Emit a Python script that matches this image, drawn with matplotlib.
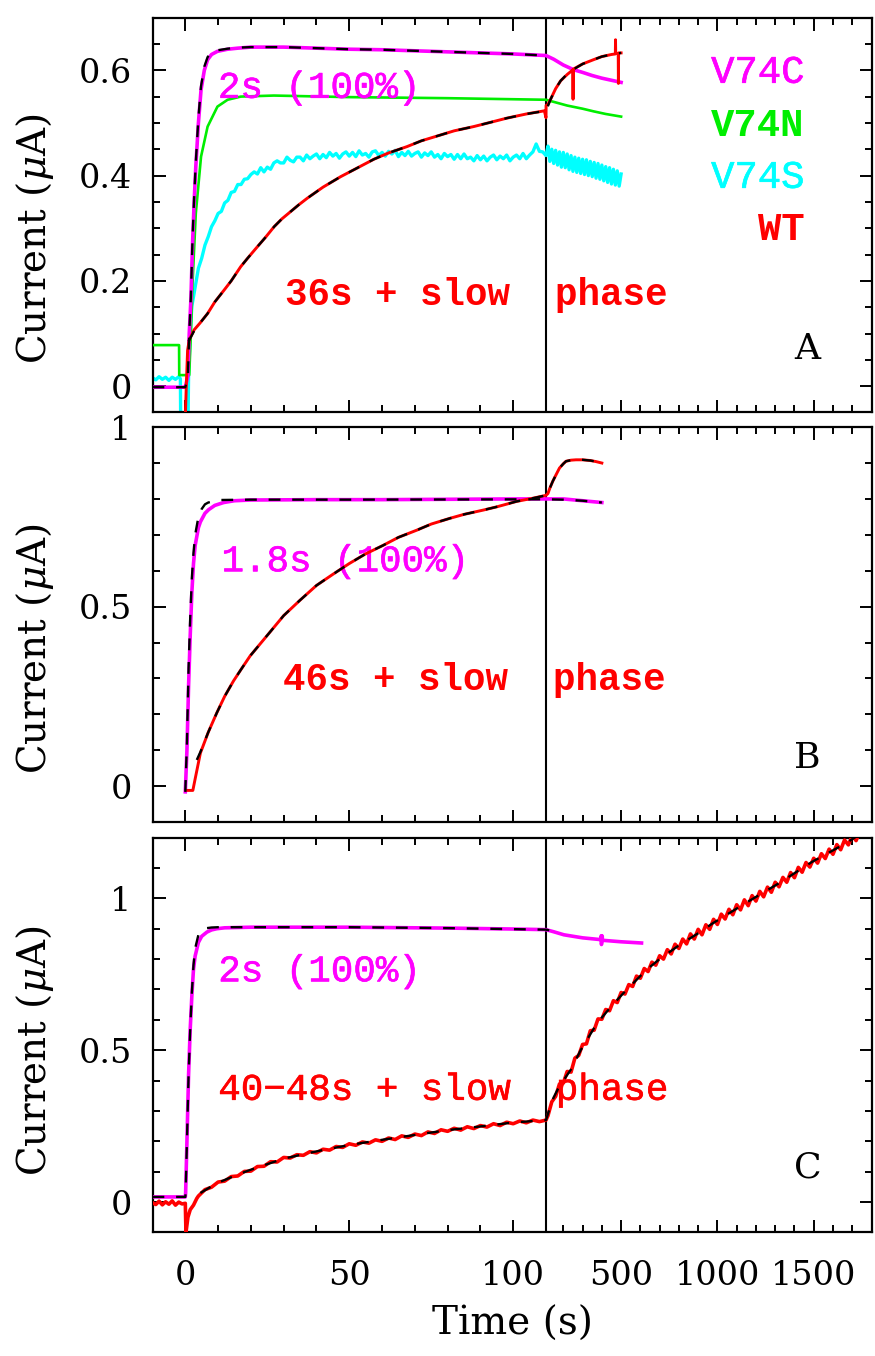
import numpy as np
import matplotlib
matplotlib.use("Agg")
import matplotlib.pyplot as plt
import matplotlib.patheffects as pe

# ---------------- Panel A : four constructs ----------------
# V74C (magenta)
a_v74c_t = [-10, -0.3, 0, 0.8, 1.2, 1.7, 2.2, 2.7, 3.2, 4.0, 4.8, 5.8, 6.8, 8.0, 9.8, 12.9, 16, 20,
            30, 40, 50, 60, 70, 80, 90, 100, 110, 150, 200, 254, 300, 350, 400, 450, 500]
a_v74c_i = [-0.002, -0.002, -0.002, 0.02, 0.10, 0.164, 0.27, 0.35, 0.417, 0.50, 0.563, 0.60, 0.62, 0.63,
            0.636, 0.640, 0.642, 0.644, 0.644, 0.642, 0.640, 0.639, 0.637, 0.635, 0.633, 0.631, 0.628,
            0.621, 0.610, 0.601, 0.596, 0.590, 0.585, 0.581, 0.577]
a_v74c_fit_t = [-10, 0, 0.8, 1.2, 1.7, 2.2, 2.7, 3.2, 4.0, 4.8, 5.8, 6.8, 8.0, 9.8, 12.9, 16, 20,
                30, 40, 50, 60, 70, 80, 90, 100, 110]
a_v74c_fit_i = [-0.002, -0.002, 0.02, 0.10, 0.17, 0.28, 0.36, 0.425, 0.51, 0.57, 0.607, 0.625, 0.634,
                0.638, 0.641, 0.643, 0.644, 0.644, 0.642, 0.640, 0.639, 0.637, 0.635, 0.633, 0.631, 0.628]

# V74N (green)
a_v74n_t = [-10, -1.9, -1.85, 1.2, 1.7, 2.2, 3.2, 4.8, 6.8, 9.8, 12.9, 16.9, 27, 50, 80, 110,
            150, 220, 300, 357, 420, 500]
a_v74n_i = [0.078, 0.078, 0.021, 0.021, 0.10, 0.195, 0.328, 0.436, 0.493, 0.531, 0.544, 0.550, 0.552,
            0.549, 0.547, 0.544, 0.540, 0.533, 0.527, 0.522, 0.517, 0.512]

# V74S (cyan), noisy trace
a_v74s_t = [-10, -9, -8, -7, -6, -5, -4, -3, -2, -1.5, -1.4, 0.8, 1.0, 1.5, 2, 3, 4, 5, 6, 7, 8, 9,
            10, 11, 12, 13, 14, 15, 16, 17, 18, 19, 20,
            21, 22, 23, 24, 25, 26, 27, 28, 29, 30, 31, 32, 33, 34, 35, 36, 37, 38, 39, 40,
            41, 42, 43, 44, 45, 46, 47, 48, 49, 50, 51, 52, 53, 54, 55, 56, 57, 58, 59, 60,
            61, 62, 63, 64, 65, 66, 67, 68, 69, 70, 71, 72, 73, 74, 75, 76, 77, 78, 79, 80,
            81, 82, 83, 84, 85, 86, 87, 88, 89, 90, 91, 92, 93, 94, 95, 96, 97, 98, 99, 100,
            101, 102, 103, 104, 105, 106, 107, 108, 109, 110,
            120, 130, 140, 150, 160, 170, 180, 190, 200, 210, 220, 230, 240, 250, 260, 270, 280,
            290, 300, 310, 320, 330, 340, 350, 360, 370, 380, 390, 400, 410, 420, 430, 440, 450,
            460, 470, 480, 490, 500]
a_v74s_i = [0.016, 0.012, 0.018, 0.013, 0.017, 0.011, 0.017, 0.013, 0.018, 0.014, -0.08, -0.08, 0.02,
            0.10, 0.152, 0.188, 0.224, 0.243, 0.268, 0.284, 0.303, 0.314, 0.328, 0.332, 0.348, 0.353,
            0.368, 0.370, 0.383, 0.383, 0.393, 0.394, 0.402,
            0.407, 0.403, 0.415, 0.407, 0.416, 0.412, 0.424, 0.428, 0.424, 0.424,
            0.435, 0.429, 0.426, 0.435, 0.435, 0.428, 0.439, 0.432, 0.437, 0.441,
            0.432, 0.440, 0.434, 0.444, 0.437, 0.442, 0.433, 0.441, 0.445, 0.437,
            0.444, 0.436, 0.447, 0.439, 0.442, 0.435, 0.445, 0.447, 0.438, 0.444,
            0.437, 0.446, 0.441, 0.448, 0.436, 0.444, 0.438, 0.446, 0.437, 0.442,
            0.445, 0.435, 0.443, 0.438, 0.445, 0.435, 0.440, 0.432, 0.442, 0.436,
            0.440, 0.431, 0.440, 0.432, 0.441, 0.432, 0.435, 0.428, 0.438, 0.430,
            0.437, 0.428, 0.435, 0.439, 0.430, 0.437, 0.432, 0.439, 0.428, 0.435,
            0.439, 0.432, 0.442, 0.432, 0.439, 0.445, 0.460, 0.446, 0.445, 0.438,
            0.456, 0.427, 0.450, 0.423, 0.448, 0.420, 0.445, 0.416, 0.444, 0.415, 0.441, 0.411, 0.438,
            0.408, 0.435, 0.406, 0.433, 0.404, 0.431, 0.402, 0.430, 0.400, 0.427, 0.398, 0.425, 0.395,
            0.423, 0.393, 0.420, 0.390, 0.417, 0.387, 0.415, 0.384, 0.412, 0.382, 0.409, 0.380, 0.403]

# WT (red)
a_wt_t = [0, 0.3, 0.7, 1.2, 2.7, 4.5, 6.8, 9, 11.9, 14, 16.9, 19, 22, 24.5, 27.1, 29.5, 32.2, 34.5,
          37.2, 42, 47.4, 52, 57.5, 62, 67.6, 72, 77.8, 82, 87.9, 93, 98, 104, 109.5, 110, 110.5,
          120, 134, 160, 186, 220, 250, 250.5, 251, 300, 356, 400, 450, 470, 471, 472, 485, 486,
          487, 500]
a_wt_i = [-0.06, 0.0, 0.068, 0.088, 0.107, 0.12, 0.138, 0.16, 0.183, 0.20, 0.227, 0.243, 0.265, 0.283,
          0.303, 0.318, 0.332, 0.344, 0.357, 0.378, 0.398, 0.413, 0.431, 0.443, 0.455, 0.466, 0.477,
          0.485, 0.493, 0.501, 0.509, 0.517, 0.523, 0.51, 0.533, 0.535, 0.545, 0.565, 0.58, 0.592,
          0.601, 0.545, 0.602, 0.612, 0.62, 0.626, 0.63, 0.631, 0.658, 0.632, 0.632, 0.575, 0.633,
          0.633]
a_wt_fit_t = [1.0, 2.7, 4.5, 6.8, 9, 11.9, 14, 16.9, 19, 22, 24.5, 27.1, 29.5, 32.2, 34.5, 37.2, 42,
              47.4, 52, 57.5, 62, 67.6, 72, 77.8, 82, 87.9, 93, 98, 104, 110, 120, 134, 160, 186,
              220, 254, 300, 356, 400, 450, 500]
a_wt_fit_i = [0.085, 0.105, 0.12, 0.138, 0.16, 0.183, 0.20, 0.227, 0.243, 0.265, 0.283, 0.303, 0.318,
              0.332, 0.344, 0.357, 0.378, 0.398, 0.413, 0.431, 0.443, 0.455, 0.466, 0.477, 0.485,
              0.493, 0.501, 0.509, 0.517, 0.523, 0.532, 0.545, 0.565, 0.58, 0.593, 0.602, 0.612,
              0.62, 0.626, 0.63, 0.633]

# ---------------- Panel B ----------------
b_v74c_t = [0, 0.5, 1, 1.5, 2, 2.5, 3, 4, 4.6, 6, 7.1, 9, 11.7, 15, 20, 40, 60, 80, 100, 110,
            150, 200, 300, 400]
b_v74c_i = [-0.016, 0.10, 0.28, 0.42, 0.54, 0.62, 0.67, 0.72, 0.736, 0.76, 0.77, 0.782, 0.79, 0.795,
            0.797, 0.798, 0.798, 0.799, 0.80, 0.80, 0.80, 0.80, 0.795, 0.79]
b_v74c_fit_t = [0, 0.5, 1, 1.5, 2, 2.5, 3, 4, 5, 6, 7, 10, 20, 50, 110, 200, 300, 400]
b_v74c_fit_i = [-0.016, 0.12, 0.33, 0.47, 0.58, 0.65, 0.70, 0.75, 0.772, 0.785, 0.79, 0.797, 0.798,
                0.798, 0.799, 0.798, 0.795, 0.79]
b_wt_t = [0.3, 2.3, 3, 4.6, 7, 9.6, 12, 14.7, 17, 19.8, 25, 30, 35, 40, 45, 50, 55, 60.4, 65, 70.6,
          75, 80.7, 85, 90.9, 95, 101, 106, 110, 120, 130, 145, 160, 180, 200, 214, 240, 266, 300,
          340, 370, 400]
b_wt_i = [-0.012, -0.012, 0.02, 0.092, 0.15, 0.204, 0.25, 0.293, 0.325, 0.363, 0.42, 0.475, 0.518,
          0.559, 0.59, 0.62, 0.647, 0.671, 0.693, 0.713, 0.73, 0.746, 0.757, 0.769, 0.778, 0.793,
          0.802, 0.81, 0.815, 0.83, 0.849, 0.865, 0.886, 0.898, 0.905, 0.908, 0.909, 0.909, 0.907,
          0.904, 0.90]
b_wt_fit_t = [3.5, 4.6, 7, 9.6, 12, 14.7, 17, 19.8, 25, 30, 35, 40, 45, 50, 55, 60.4, 65, 70.6, 75,
              80.7, 85, 90.9, 95, 101, 106, 110, 120, 130, 145, 160, 180, 200, 214, 240, 266, 300,
              340, 370, 400]
b_wt_fit_i = [0.073, 0.095, 0.15, 0.204, 0.25, 0.293, 0.325, 0.363, 0.42, 0.475, 0.518, 0.559, 0.59,
              0.62, 0.647, 0.671, 0.693, 0.713, 0.73, 0.746, 0.757, 0.769, 0.778, 0.793, 0.802, 0.81,
              0.815, 0.83, 0.849, 0.865, 0.886, 0.898, 0.905, 0.908, 0.909, 0.909, 0.907, 0.904, 0.90]

# ---------------- Panel C ----------------
c_v74c_t = [-10, 0, 0.1, 0.5, 1, 1.5, 2, 2.5, 3, 4, 5, 6.6, 8, 9.6, 12, 20, 50, 80.7, 100, 110,
            150, 203, 300, 396, 397, 398, 400, 402, 403, 500, 606]
c_v74c_i = [0.017, 0.017, 0.03, 0.2, 0.42, 0.57, 0.68, 0.767, 0.81, 0.855, 0.875, 0.889, 0.896, 0.90,
            0.903, 0.905, 0.905, 0.902, 0.899, 0.897, 0.89, 0.88, 0.87, 0.864, 0.877, 0.848, 0.863,
            0.876, 0.862, 0.857, 0.853]
c_v74c_fit_t = [-10, 0, 0.1, 0.5, 1, 1.5, 2, 2.5, 3, 4, 5, 6.6, 8, 10, 20, 50, 80, 110, 140, 170]
c_v74c_fit_i = [0.017, 0.017, 0.03, 0.2, 0.42, 0.57, 0.69, 0.78, 0.835, 0.88, 0.895, 0.902, 0.904,
                0.905, 0.905, 0.905, 0.902, 0.897, 0.893, 0.888]
c_wt_t = [-10, -9, -8, -7, -6, -5, -4, -3, -2, -1, 0, 0.2, 0.8, 1.5, 2.5, 3.5,
          4, 6, 8, 10, 12, 14, 16, 18, 20, 22, 24, 26, 28, 30, 32, 34, 36, 38, 40, 42, 44, 46, 48,
          50, 52, 54, 56, 58, 60, 62, 64, 66, 68, 70, 72, 74, 76, 78, 80, 82, 84, 86, 88, 90, 92,
          94, 96, 98, 100, 102, 104, 106, 108, 110,
          120, 140, 160, 180, 200, 220, 240, 260, 280, 300, 320, 340, 360, 380, 400, 420, 440, 460,
          480, 500, 520, 540, 560, 580, 600, 620, 640, 660, 680, 700, 720, 740, 760, 780, 800, 820,
          840, 860, 880, 900, 920, 940, 960, 980, 1000, 1020, 1040, 1060, 1080, 1100, 1120, 1140,
          1160, 1180, 1200, 1220, 1240, 1260, 1280, 1300, 1320, 1340, 1360, 1380, 1400, 1420, 1440,
          1460, 1480, 1500, 1520, 1540, 1560, 1580, 1600, 1620, 1640, 1660, 1680, 1700, 1720, 1740]
c_wt_i = [-0.002, -0.008, 0.003, -0.009, 0.001, -0.007, 0.004, -0.010, 0.000, -0.006, -0.004, -0.10,
          -0.05, -0.025, -0.01, 0.012,
          0.020, 0.041, 0.049, 0.066, 0.069, 0.084, 0.086, 0.101, 0.102, 0.117, 0.118, 0.133, 0.132,
          0.147, 0.145, 0.156, 0.154, 0.166, 0.162, 0.174, 0.171, 0.183, 0.180, 0.192, 0.187, 0.198,
          0.194, 0.205, 0.200, 0.211, 0.206, 0.218, 0.213, 0.224, 0.219, 0.231, 0.226, 0.238, 0.233,
          0.243, 0.237, 0.248, 0.242, 0.252, 0.247, 0.258, 0.252, 0.263, 0.258, 0.267, 0.261, 0.270,
          0.265, 0.270,
          0.284, 0.330, 0.348, 0.389, 0.392, 0.430, 0.428, 0.474, 0.483, 0.519, 0.521, 0.564, 0.566,
          0.603, 0.602, 0.634, 0.630, 0.663, 0.657, 0.690, 0.685, 0.716, 0.710, 0.744, 0.737, 0.769,
          0.759, 0.790, 0.780, 0.811, 0.800, 0.831, 0.817, 0.849, 0.835, 0.866, 0.850, 0.883, 0.866,
          0.898, 0.880, 0.913, 0.898, 0.931, 0.914, 0.948, 0.932, 0.964, 0.946, 0.979, 0.962, 0.995,
          0.976, 1.009, 0.991, 1.023, 1.005, 1.037, 1.020, 1.053, 1.038, 1.069, 1.053, 1.085, 1.068,
          1.102, 1.086, 1.118, 1.103, 1.132, 1.116, 1.147, 1.131, 1.162, 1.145, 1.177, 1.160, 1.192,
          1.176, 1.207, 1.190, 1.222]
c_wt_fit_t = [4.6, 9.6, 14.7, 19.8, 30, 40, 50, 60, 70, 80, 90, 100, 110, 130, 150, 170, 200, 240,
              290, 375, 450, 512, 632, 700, 804, 900, 976, 1148, 1320, 1491, 1663, 1800]
c_wt_fit_i = [0.03, 0.062, 0.085, 0.106, 0.143, 0.167, 0.188, 0.205, 0.221, 0.237, 0.249, 0.262, 0.27,
              0.31, 0.345, 0.37, 0.40, 0.437, 0.50, 0.589, 0.645, 0.688, 0.765, 0.80, 0.847, 0.885,
              0.918, 0.985, 1.05, 1.12, 1.18, 1.235]

# axis ticks
x_major = [0, 50, 100, 500, 1000, 1500]
x_major_labels = ["0", "50", "100", "500", "1000", "1500"]
x_minor = [-10, 10, 20, 30, 40, 60, 70, 80, 90, 110, 200, 300, 400, 600, 700, 800, 900,
           1100, 1200, 1300, 1400, 1600, 1700]
a_yticks = [0, 0.2, 0.4, 0.6]
a_ylabels = ["0", "0.2", "0.4", "0.6"]
bc_yticks = [0, 0.5, 1.0]
bc_ylabels = ["0", "0.5", "1"]

MAGENTA = "#ff00ff"
GREEN = "#00ee00"
CYAN = "#00ffff"
RED = "#ff0000"

# broken time axis: linear up to 110 s, compressed linear beyond
T_BREAK = 110.0
K = 0.05874


def fwd(t):
    t = np.asarray(t, dtype=float)
    return np.where(t <= T_BREAK, t, T_BREAK + (t - T_BREAK) * K)


def inv(u):
    u = np.asarray(u, dtype=float)
    return np.where(u <= T_BREAK, u, T_BREAK + (u - T_BREAK) / K)


plt.rcParams["font.family"] = ["DejaVu Serif"]
plt.rcParams["mathtext.fontset"] = "dejavuserif"
plt.rcParams["axes.linewidth"] = 1.6

fig = plt.figure(figsize=(8.75, 13.56), dpi=100)
left, width, height = 0.1743, 0.8217, 0.2912
ax_a = fig.add_axes([left, 0.6958, width, height])
ax_b = fig.add_axes([left, 0.3938, width, height])
ax_c = fig.add_axes([left, 0.0911, width, height])

MONO = ["Liberation Mono", "DejaVu Sans Mono"]
DASH = (0, (5, 5))
LW_FIT = 1.7
TICK_FS = 24


def heavy(color, w=0.45):
    """Slightly thicken the strokes of a text drawn in a light face."""
    return [pe.withStroke(linewidth=w, foreground=color)]


for ax in (ax_a, ax_b, ax_c):
    ax.set_xscale("function", functions=(fwd, inv))
    ax.set_xlim(-10, 1800)
    ax.set_xticks(x_major)
    ax.set_xticks(x_minor, minor=True)
    ax.tick_params(which="both", direction="in", top=True, right=True, width=1.4,
                   labelsize=TICK_FS, labelbottom=False)
    ax.tick_params(which="major", length=9)
    ax.tick_params(which="minor", length=5)
    ax.yaxis.set_tick_params(which="major", pad=15)
    ax.axvline(T_BREAK, color="black", lw=1.5, zorder=1)
    ax.set_ylabel(r"Current ($\mu$A)", fontsize=28)
    ax.yaxis.set_label_coords(-0.134, 0.44)

# time tick labels below the bottom panel
for xv, lab in zip(x_major, x_major_labels):
    ax_c.text(xv, -0.07, lab, transform=ax_c.get_xaxis_transform(), fontsize=TICK_FS,
              ha="center", va="top")

# ---- Panel A ----
ax_a.set_ylim(-0.05, 0.70)
ax_a.set_yticks(a_yticks, labels=a_ylabels)
ax_a.set_yticks(np.arange(-0.05, 0.70, 0.05).round(2), minor=True)
ax_a.plot(a_v74s_t, a_v74s_i, color=CYAN, lw=2.4, zorder=2)
ax_a.plot(a_v74n_t, a_v74n_i, color=GREEN, lw=1.9, zorder=3)
ax_a.plot(a_v74c_t, a_v74c_i, color=MAGENTA, lw=2.6, zorder=4)
ax_a.plot(a_wt_t, a_wt_i, color=RED, lw=2.1, zorder=5)
ax_a.plot(a_v74c_fit_t, a_v74c_fit_i, color="black", lw=LW_FIT, ls=DASH, zorder=6)
ax_a.plot(a_wt_fit_t, a_wt_fit_i, color="black", lw=LW_FIT, ls=DASH, zorder=6)

ax_a.text(0.091, 0.797, "2s (100%)", transform=ax_a.transAxes, color=MAGENTA,
          family=MONO, fontsize=27, va="baseline", path_effects=heavy(MAGENTA))
ax_a.text(0.184, 0.271, "36s + slow  phase", transform=ax_a.transAxes, color=RED,
          family=MONO, fontsize=27, fontweight="bold", va="baseline")
for label, col, yb, wt in (("V74C", MAGENTA, 0.835, "normal"), ("V74N", GREEN, 0.701, "bold"),
                           ("V74S", CYAN, 0.569, "normal"), ("WT", RED, 0.436, "bold")):
    ax_a.text(0.907, yb, label, transform=ax_a.transAxes, color=col, family=MONO,
              fontsize=28, fontweight=wt, ha="right", va="baseline",
              path_effects=heavy(col) if wt == "normal" else None)
ax_a.text(0.911, 0.135, "A", transform=ax_a.transAxes, fontsize=26, ha="center", va="baseline")

# ---- Panel B ----
ax_b.set_ylim(-0.1, 1.0)
ax_b.set_yticks(bc_yticks, labels=bc_ylabels)
ax_b.set_yticks(np.arange(-0.1, 1.0, 0.1).round(2), minor=True)
ax_b.plot(b_v74c_t, b_v74c_i, color=MAGENTA, lw=2.6, zorder=4)
ax_b.plot(b_wt_t, b_wt_i, color=RED, lw=2.1, zorder=5)
ax_b.plot(b_v74c_fit_t, b_v74c_fit_i, color="black", lw=LW_FIT, ls=DASH, zorder=6)
ax_b.plot(b_wt_fit_t, b_wt_fit_i, color="black", lw=LW_FIT, ls=DASH, zorder=6)
ax_b.text(0.096, 0.635, "1.8s (100%)", transform=ax_b.transAxes, color=MAGENTA,
          family=MONO, fontsize=27, va="baseline", path_effects=heavy(MAGENTA))
ax_b.text(0.182, 0.335, "46s + slow  phase", transform=ax_b.transAxes, color=RED,
          family=MONO, fontsize=27, fontweight="bold", va="baseline")
ax_b.text(0.911, 0.137, "B", transform=ax_b.transAxes, fontsize=26, ha="center", va="baseline")

# ---- Panel C ----
ax_c.set_ylim(-0.1, 1.2)
ax_c.set_yticks(bc_yticks, labels=bc_ylabels)
ax_c.set_yticks(np.arange(-0.1, 1.2, 0.1).round(2), minor=True)
ax_c.plot(c_wt_t, c_wt_i, color=RED, lw=2.6, zorder=4)
ax_c.plot(c_v74c_t, c_v74c_i, color=MAGENTA, lw=2.6, zorder=5)
ax_c.plot(c_v74c_fit_t, c_v74c_fit_i, color="black", lw=LW_FIT, ls=DASH, zorder=6)
ax_c.plot(c_wt_fit_t, c_wt_fit_i, color="black", lw=LW_FIT, ls=DASH, zorder=6)
ax_c.text(0.0915, 0.636, "2s (100%)", transform=ax_c.transAxes, color=MAGENTA,
          family=MONO, fontsize=27, va="baseline", path_effects=heavy(MAGENTA))
ax_c.text(0.0915, 0.336, "40\u221248s + slow  phase", transform=ax_c.transAxes, color=RED,
          family=MONO, fontsize=27, va="baseline", path_effects=heavy(RED))
ax_c.text(0.911, 0.138, "C", transform=ax_c.transAxes, fontsize=26, ha="center", va="baseline")
ax_c.yaxis.set_label_coords(-0.134, 0.46)
ax_c.set_xlabel("Time (s)", fontsize=28)
ax_c.xaxis.set_label_coords(0.5, -0.186)

fig.savefig("out.png", dpi=100)
